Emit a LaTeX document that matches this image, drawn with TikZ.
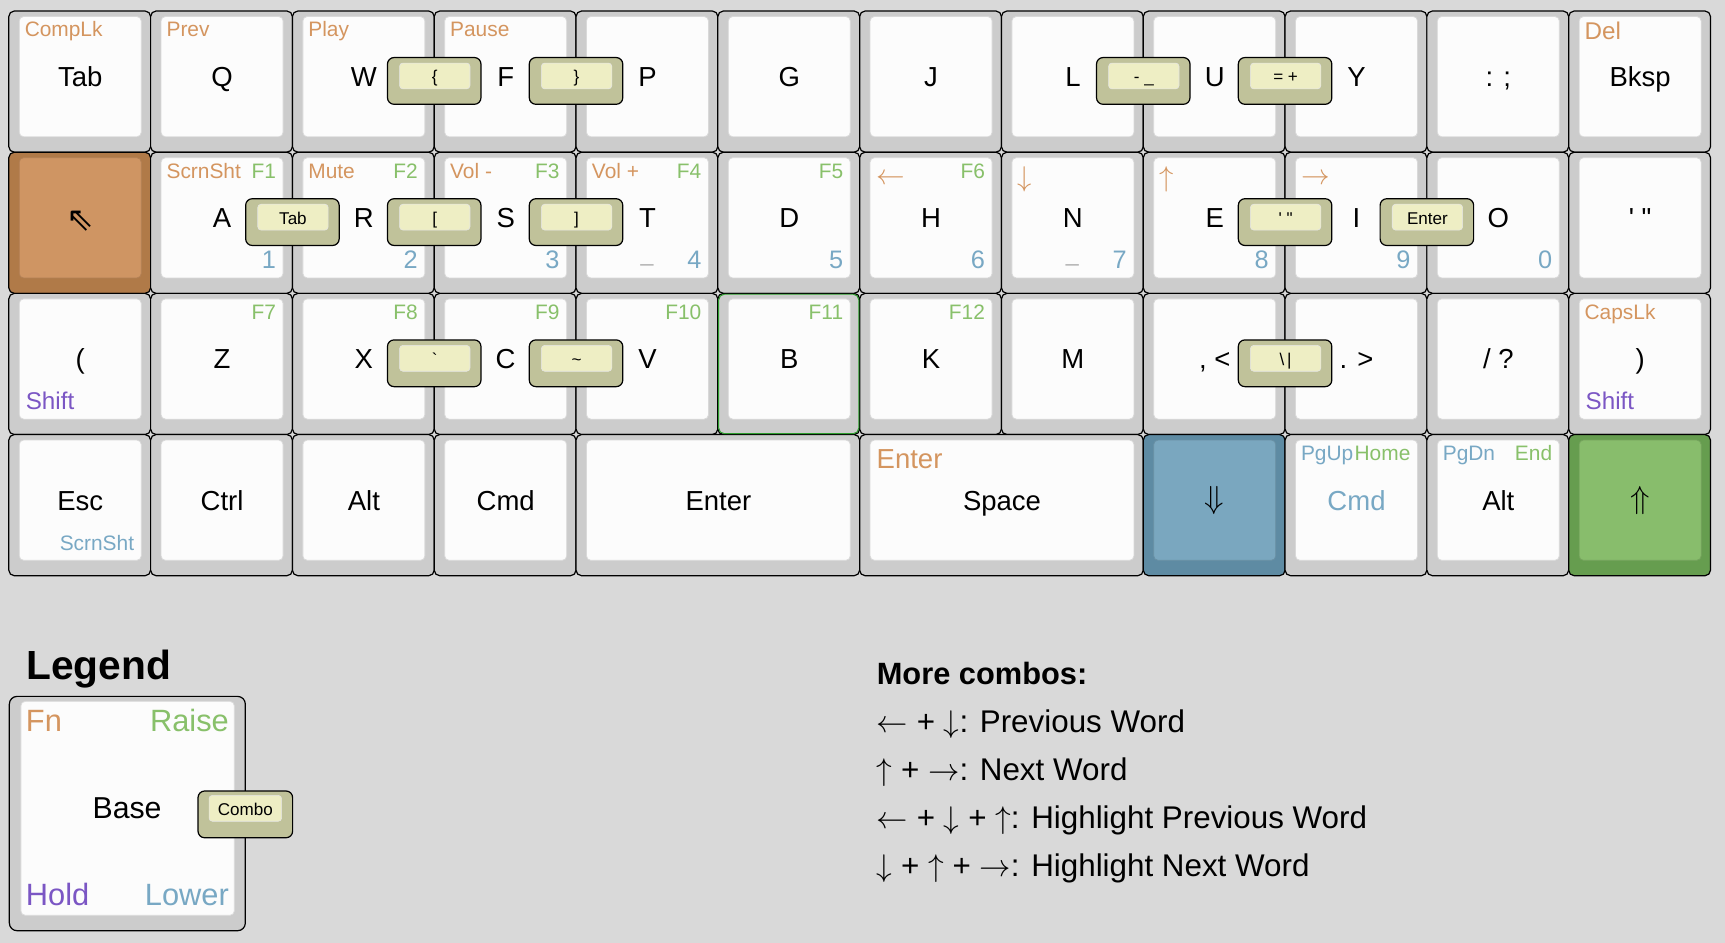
\RequirePackage{fix-cm}
\documentclass[tikz,border=0pt]{standalone}
\usepackage{fontspec}
\setmainfont{Liberation Sans}[Ligatures=TeXOff]
\newfontfamily\symf{DejaVu Sans}
\newcommand\fs[1]{\fontsize{#1}{#1}\selectfont}
\definecolor{bg}{HTML}{D9D9D9}
\definecolor{keyg}{HTML}{CCCCCC}
\definecolor{keyw}{HTML}{FCFCFC}
\definecolor{orO}{HTML}{B07A48}
\definecolor{orI}{HTML}{CF9563}
\definecolor{blO}{HTML}{5E8BA3}
\definecolor{blI}{HTML}{7AA7BF}
\definecolor{grO}{HTML}{669D4F}
\definecolor{grI}{HTML}{88BD6C}
\definecolor{cbO}{HTML}{C0C29A}
\definecolor{cbI}{HTML}{EEEEC4}
\definecolor{tOr}{HTML}{D4955F}
\definecolor{tGr}{HTML}{88C06A}
\definecolor{tBl}{HTML}{78A8C4}
\definecolor{tPu}{HTML}{7B56C4}
\definecolor{tGy}{HTML}{B0B0B0}
\definecolor{bGreen}{HTML}{2E9E2E}
\newcounter{labc}
% key: name, col, row, width, outer fill, inner fill
\newcommand\Key[6]{%
 \pgfmathsetmacro\xa{8+#2*128.9}\pgfmathsetmacro\ya{10+#3*128.33}%
 \pgfmathsetmacro\kw{#4*128.9}\pgfmathsetmacro\xb{\xa+\kw}\pgfmathsetmacro\yb{\ya+128.33}%
 \pgfmathsetmacro\iw{\kw-18}%
 \node[keyout, fill=#5, minimum width=\kw pt, minimum height=128.33pt, anchor=north west] (#1) at (\xa,\ya) {};
 \node[keyin, fill=#6, draw=#6!86!black, minimum width=\iw pt, minimum height=109.33pt, anchor=north west] (#1i) at (\xa+9.5,\ya+5) {};
}
\newcommand\TL[3]{\stepcounter{labc}\node[lab, anchor=base west, text=#2, font=\fs{#3}] (lb\thelabc) at (\xa+14.5,{\ya+10+0.716*#3}) {#1};}
\newcommand\TR[3]{\stepcounter{labc}\node[lab, anchor=base east, text=#2, font=\fs{#3}] (lb\thelabc) at (\xb-15,{\ya+10+0.716*#3}) {#1};}
\newcommand\BL[3]{\stepcounter{labc}\node[lab, anchor=base west, text=#2, font=\fs{#3}] (lb\thelabc) at (\xa+15.5,\yb-23) {#1};}
\newcommand\BR[3]{\stepcounter{labc}\node[lab, anchor=base east, text=#2, font=\fs{#3}] (lb\thelabc) at (\xb-15,\yb-23) {#1};}
\newcommand\BC{\stepcounter{labc}\node[lab, anchor=base, text=tGy, font=\fs{21}] (lb\thelabc) at ({(\xa+\xb)/2},\yb-29) {\_};}
\newcommand\AR[1]{\stepcounter{labc}\node[lab, anchor=west, text=tOr, font=\fs{26}] (lb\thelabc) at (\xa+15,\ya+25) {$#1$};}
\newcommand\MN[2]{\stepcounter{labc}\node[lab, anchor=base, text=#2, font=\fs{25}] (lb\thelabc) at ({(\xa+\xb)/2+0.5},\ya+68.6) {#1};}
\newcommand\SY[3]{\stepcounter{labc}\node[lab, anchor=center, font=\fs{#2}] (lb\thelabc) at ({(\xa+\xb)/2+0.5},\ya+#3) {#1};}
% combo: name, boundary col, row, text
\newcommand\Combo[4]{%
 \pgfmathsetmacro\cx{8+#2*128.9}\pgfmathsetmacro\cy{10+#3*128.33+42.3}%
 \node[cbout, anchor=north] (#1) at (\cx,\cy) {};
 \node[cbin, anchor=north west] (#1i) at (\cx-31.5,\cy+5) {};
 \node[lab, anchor=base, font=\fs{15.5}] (#1t) at (\cx+0.5,\cy+23) {#4};
}
\begin{document}
\begin{tikzpicture}[x=1pt,y=-1pt,
 keyout/.style={draw=black, line width=1.1pt, rounded corners=5pt, inner sep=0pt, outer sep=0pt},
 keyin/.style={line width=0.7pt, rounded corners=4pt, inner sep=0pt, outer sep=0pt},
 lab/.style={inner sep=0pt, outer sep=0pt},
 cbout/.style={draw=black, line width=1.1pt, fill=cbO, rounded corners=6pt, inner sep=0pt, outer sep=0pt, minimum width=85pt, minimum height=42.5pt},
 cbin/.style={fill=cbI, draw=black!10, line width=0.5pt, rounded corners=3pt, inner sep=0pt, outer sep=0pt, minimum width=64pt, minimum height=23.5pt}]
\path[use as bounding box, fill=bg] (0,0) rectangle (1568,857);
% ---- row 0
\Key{k00}{0}{0}{1}{keyg}{keyw}\TL{CompLk}{tOr}{19}\MN{Tab}{black}
\Key{k01}{1}{0}{1}{keyg}{keyw}\TL{Prev}{tOr}{19}\MN{Q}{black}
\Key{k02}{2}{0}{1}{keyg}{keyw}\TL{Play}{tOr}{19}\MN{W}{black}
\Key{k03}{3}{0}{1}{keyg}{keyw}\TL{Pause}{tOr}{19}\MN{F}{black}
\Key{k04}{4}{0}{1}{keyg}{keyw}\MN{P}{black}
\Key{k05}{5}{0}{1}{keyg}{keyw}\MN{G}{black}
\Key{k06}{6}{0}{1}{keyg}{keyw}\MN{J}{black}
\Key{k07}{7}{0}{1}{keyg}{keyw}\MN{L}{black}
\Key{k08}{8}{0}{1}{keyg}{keyw}\MN{U}{black}
\Key{k09}{9}{0}{1}{keyg}{keyw}\MN{Y}{black}
\Key{k0a}{10}{0}{1}{keyg}{keyw}\MN{: ;}{black}
\Key{k0b}{11}{0}{1}{keyg}{keyw}\TL{Del}{tOr}{22}\MN{Bksp}{black}
% ---- row 1
\Key{k10}{0}{1}{1}{orO}{orI}\SY{\symf ⇖}{30}{63}
\Key{k11}{1}{1}{1}{keyg}{keyw}\TL{ScrnSht}{tOr}{19}\TR{F1}{tGr}{19}\BR{1}{tBl}{23}\MN{A}{black}
\Key{k12}{2}{1}{1}{keyg}{keyw}\TL{Mute}{tOr}{19}\TR{F2}{tGr}{19}\BR{2}{tBl}{23}\MN{R}{black}
\Key{k13}{3}{1}{1}{keyg}{keyw}\TL{Vol -}{tOr}{19}\TR{F3}{tGr}{19}\BR{3}{tBl}{23}\MN{S}{black}
\Key{k14}{4}{1}{1}{keyg}{keyw}\TL{Vol +}{tOr}{19}\TR{F4}{tGr}{19}\BR{4}{tBl}{23}\BC\MN{T}{black}
\Key{k15}{5}{1}{1}{keyg}{keyw}\TR{F5}{tGr}{19}\BR{5}{tBl}{23}\MN{D}{black}
\Key{k16}{6}{1}{1}{keyg}{keyw}\AR{\leftarrow}\TR{F6}{tGr}{19}\BR{6}{tBl}{23}\MN{H}{black}
\Key{k17}{7}{1}{1}{keyg}{keyw}\AR{\downarrow}\BR{7}{tBl}{23}\BC\MN{N}{black}
\Key{k18}{8}{1}{1}{keyg}{keyw}\AR{\uparrow}\BR{8}{tBl}{23}\MN{E}{black}
\Key{k19}{9}{1}{1}{keyg}{keyw}\AR{\rightarrow}\BR{9}{tBl}{23}\MN{I}{black}
\Key{k1a}{10}{1}{1}{keyg}{keyw}\BR{0}{tBl}{23}\MN{O}{black}
\Key{k1b}{11}{1}{1}{keyg}{keyw}\MN{' "}{black}
% ---- row 2
\Key{k20}{0}{2}{1}{keyg}{keyw}\BL{Shift}{tPu}{22}\MN{(}{black}
\Key{k21}{1}{2}{1}{keyg}{keyw}\TR{F7}{tGr}{19}\MN{Z}{black}
\Key{k22}{2}{2}{1}{keyg}{keyw}\TR{F8}{tGr}{19}\MN{X}{black}
\Key{k23}{3}{2}{1}{keyg}{keyw}\TR{F9}{tGr}{19}\MN{C}{black}
\Key{k24}{4}{2}{1}{keyg}{keyw}\TR{F10}{tGr}{19}\MN{V}{black}
\Key{k25}{5}{2}{1}{keyg}{keyw}\TR{F11}{tGr}{19}\MN{B}{black}
\Key{k26}{6}{2}{1}{keyg}{keyw}\TR{F12}{tGr}{19}\MN{K}{black}
\Key{k27}{7}{2}{1}{keyg}{keyw}\MN{M}{black}
\Key{k28}{8}{2}{1}{keyg}{keyw}\MN{, <}{black}
\Key{k29}{9}{2}{1}{keyg}{keyw}\MN{. >}{black}
\Key{k2a}{10}{2}{1}{keyg}{keyw}\MN{/ ?}{black}
\Key{k2b}{11}{2}{1}{keyg}{keyw}\TL{CapsLk}{tOr}{19}\BL{Shift}{tPu}{22}\MN{)}{black}
% ---- row 3
\Key{k30}{0}{3}{1}{keyg}{keyw}\BR{ScrnSht}{tBl}{19}\MN{Esc}{black}
\Key{k31}{1}{3}{1}{keyg}{keyw}\MN{Ctrl}{black}
\Key{k32}{2}{3}{1}{keyg}{keyw}\MN{Alt}{black}
\Key{k33}{3}{3}{1}{keyg}{keyw}\MN{Cmd}{black}
\Key{k34}{4}{3}{2}{keyg}{keyw}\MN{Enter}{black}
\Key{k36}{6}{3}{2}{keyg}{keyw}\MN{Space}{black}
\node[lab, anchor=base west, text=tOr, font=\fs{25}] (spEnter) at (\xa+15.5,\ya+31) {Enter};
\Key{k38}{8}{3}{1}{blO}{blI}\SY{$\Downarrow$}{29}{60}
\Key{k39}{9}{3}{1}{keyg}{keyw}\TL{PgUp}{tBl}{19}\TR{Home}{tGr}{19}\MN{Cmd}{tBl}
\Key{k3a}{10}{3}{1}{keyg}{keyw}\TL{PgDn}{tBl}{19}\TR{End}{tGr}{19}\MN{Alt}{black}
\Key{k3b}{11}{3}{1}{grO}{grI}\SY{$\Uparrow$}{29}{60}
% green outline of B
\draw[bGreen, line width=0.9pt, rounded corners=5pt] ([xshift=0.8pt,yshift=-0.8pt]k25.north west) rectangle ([xshift=-0.8pt,yshift=0.8pt]k25.south east);
% ---- combos
\Combo{c0a}{3}{0}{\{}
\Combo{c0b}{4}{0}{\}}
\Combo{c0c}{8}{0}{- \_}
\Combo{c0d}{9}{0}{= +}
\Combo{c1a}{2}{1}{Tab}
\Combo{c1b}{3}{1}{[}
\Combo{c1c}{4}{1}{]}
\Combo{c1d}{9}{1}{' "}
\Combo{c1e}{10}{1}{Enter}
\Combo{c2a}{3}{2}{`}
\Combo{c2b}{4}{2}{\symbol{126}}
\Combo{c2c}{9}{2}{\textbackslash\,|}
% ---- legend
\node[lab, anchor=base west, font=\bfseries\fs{37}] (legtitle) at (24,618) {Legend};
\node[keyout, fill=keyg, minimum width=214.5pt, minimum height=213pt, anchor=north west, rounded corners=7pt] (legk) at (8.5,633) {};
\node[keyin, fill=keyw, draw=black!14, minimum width=194pt, minimum height=194.5pt, anchor=north west] (legki) at (19,637.5) {};
\node[lab, anchor=base west, text=tOr, font=\fs{28}] (legfn) at (23.6,665) {Fn};
\node[lab, anchor=base east, text=tGr, font=\fs{28}] (legra) at (208,665) {Raise};
\node[lab, anchor=base, font=\fs{27.5}] (legba) at (115.5,744) {Base};
\node[lab, anchor=base west, text=tPu, font=\fs{28}] (legho) at (23.6,823) {Hold};
\node[lab, anchor=base east, text=tBl, font=\fs{28}] (leglo) at (208,823) {Lower};
\node[cbout, anchor=north, minimum width=86pt] (legc) at (223,719) {};
\node[cbin, anchor=north west, minimum width=66pt] (legci) at (190,723) {};
\node[lab, anchor=base, font=\fs{15.5}] (legct) at (223,741) {Combo};
% ---- more combos
\node[lab, anchor=base west, font=\bfseries\fs{28}] (mc0) at (797,622) {More combos:};
\node[lab, anchor=base west, font=\fs{28.5}] (mc1) at (797,666) {$\leftarrow$ + $\downarrow$: Previous Word};
\node[lab, anchor=base west, font=\fs{28.5}] (mc2) at (797,709) {$\uparrow$ + $\rightarrow$: Next Word};
\node[lab, anchor=base west, font=\fs{28.5}] (mc3) at (797,753) {$\leftarrow$ + $\downarrow$ + $\uparrow$: Highlight Previous Word};
\node[lab, anchor=base west, font=\fs{28.5}] (mc4) at (797,797) {$\downarrow$ + $\uparrow$ + $\rightarrow$: Highlight Next Word};
\end{tikzpicture}
\end{document}
